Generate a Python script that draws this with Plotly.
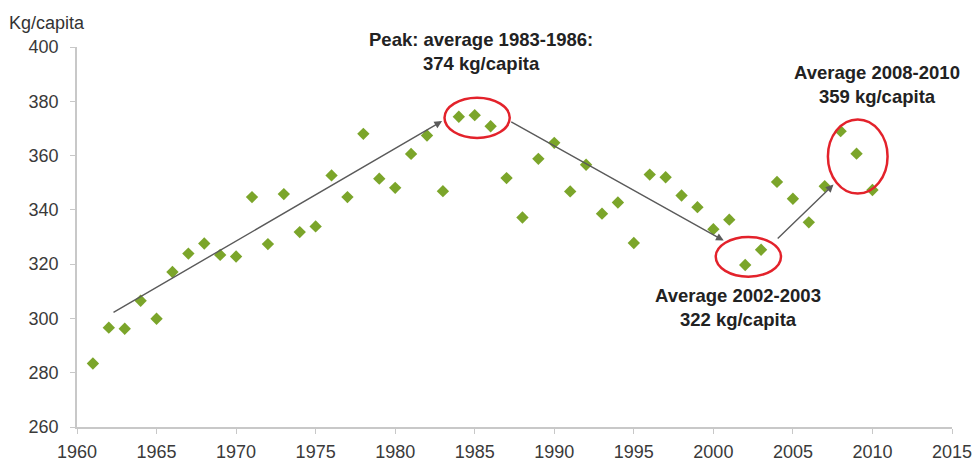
import plotly.graph_objects as go

years = list(range(1961, 2011))
kg_per_capita = [
    283.4, 296.6, 296.2, 306.5, 299.9, 317.1, 323.9, 327.6, 323.4, 322.8,
    344.7, 327.4, 345.8, 331.8, 333.9, 352.7, 344.7, 368.0, 351.5, 348.1,
    360.6, 367.4, 346.9, 374.3, 374.9, 370.8, 351.7, 337.2, 358.8, 364.7,
    346.8, 356.6, 338.6, 342.7, 327.8, 353.0, 352.0, 345.3, 341.0, 332.9,
    336.4, 319.7, 325.3, 350.3, 344.1, 335.4, 348.7, 369.0, 360.7, 347.3,
]

x_ticks = [1960, 1965, 1970, 1975, 1980, 1985, 1990, 1995, 2000, 2005, 2010, 2015]
y_ticks = [260, 280, 300, 320, 340, 360, 380, 400]

# trend arrows: (tail_x, tail_y, head_x, head_y)
arrows = [
    (1962.2, 301.9, 1982.95, 372.7),
    (1987.2, 372.7, 2000.65, 328.7),
    (2003.95, 328.9, 2007.55, 349.3),
]
# highlight ellipses: (x0, x1, y0, y1)
ellipses = [
    (1983.1, 1987.2, 366.5, 381.3),
    (2000.15, 2004.25, 315.4, 330.0),
    (2007.2, 2010.95, 346.0, 373.3),
]
labels = [
    (1985.4, 398.2, "Peak: average 1983-1986:", "374 kg/capita"),
    (2010.3, 386.2, "Average 2008-2010", "359 kg/capita"),
    (2001.55, 304.0, "Average 2002-2003", "322 kg/capita"),
]

fig = go.Figure()
fig.add_trace(go.Scatter(
    x=years, y=kg_per_capita, mode="markers",
    marker=dict(symbol="diamond", size=9.5, color="#7ba52a",
                line=dict(width=0)),
    showlegend=False, cliponaxis=False,
))

for x0, x1, y0, y1 in ellipses:
    fig.add_shape(type="circle", xref="x", yref="y", x0=x0, x1=x1, y0=y0, y1=y1,
                  line=dict(color="#e3222b", width=2.5))

annotations = []
for tx, ty, hx, hy in arrows:
    annotations.append(dict(
        x=hx, y=hy, ax=tx, ay=ty, xref="x", yref="y", axref="x", ayref="y",
        text="", showarrow=True, arrowhead=2, arrowsize=1.1, arrowwidth=1.4,
        arrowcolor="#5a5a5a", standoff=0, startstandoff=0,
    ))
for lx, ly, line1, line2 in labels:
    annotations.append(dict(
        x=lx, y=ly, xref="x", yref="y",
        text="<b>" + line1 + "</b><br><b>" + line2 + "</b>", showarrow=False,
        xanchor="center", yanchor="middle",
        font=dict(family="Arial, Liberation Sans", size=18.5, color="#222222"),
        align="center",
    ))
annotations.append(dict(
    x=-0.08, y=1.063, xref="paper", yref="paper", text="Kg/capita",
    showarrow=False, xanchor="left", yanchor="middle",
    font=dict(family="Arial, Liberation Sans", size=18, color="#333333"),
))

fig.update_layout(
    width=978, height=464,
    margin=dict(l=77, r=26, t=47, b=37, autoexpand=False),
    paper_bgcolor="white", plot_bgcolor="white",
    font=dict(family="Arial, Liberation Sans", size=18, color="#3a3a3a"),
    annotations=annotations,
    xaxis=dict(range=[1960, 2015], tickvals=x_ticks, showgrid=False,
               showline=True, linecolor="#c8c8c8", linewidth=1.5,
               ticks="outside", ticklen=5, tickcolor="#c8c8c8", zeroline=False,
               ticklabelstandoff=3, automargin=False),
    yaxis=dict(range=[260, 400], tickvals=y_ticks, showgrid=False,
               showline=True, linecolor="#c8c8c8", linewidth=1.5,
               ticks="outside", ticklen=5, tickcolor="#c8c8c8", zeroline=False,
               ticklabelstandoff=8, automargin=False),
)

fig.write_html(
    "out.html",
    config={"displayModeBar": False},
    post_script="document.body.style.margin='0';document.body.style.overflow='hidden';",
)
